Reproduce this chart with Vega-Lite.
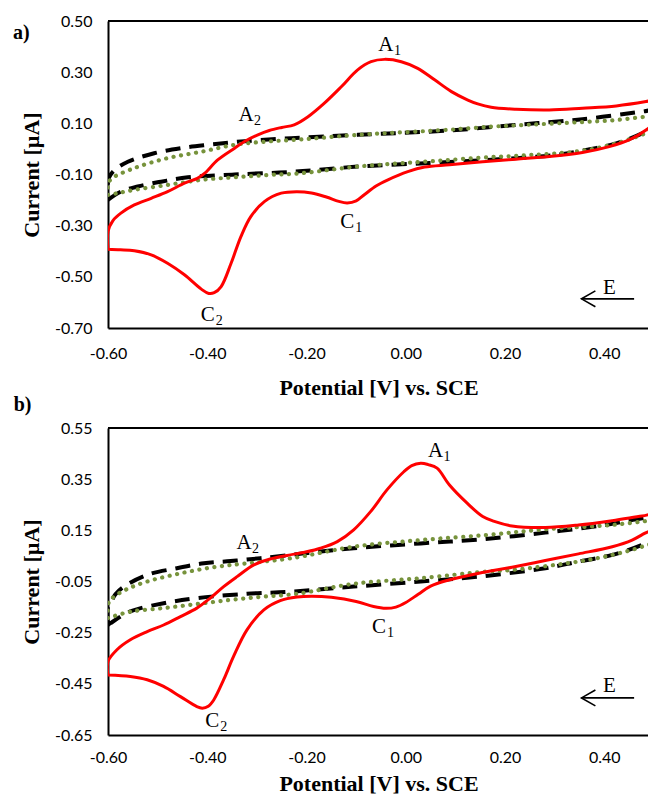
{
"$schema":"https://vega.github.io/schema/vega-lite/v6.json",
"background":"white",
"padding":{"left":12,"top":13,"right":0,"bottom":0},
"config":{
 "view":{"stroke":null},
 "concat":{"spacing":-4},
 "axis":{"grid":false,"ticks":false,"domainColor":"black","domainWidth":2,"labelFont":"Lato","labelFontSize":16,"labelColor":"black","titleFont":"Liberation Serif","titleFontSize":22,"titleFontWeight":"bold","titleColor":"black"}
},
"datasets":{
"cv":[
{"p":"a","s":"r","x":-0.6,"y":-0.392},{"p":"a","s":"r","x":-0.575,"y":-0.394},{"p":"a","s":"r","x":-0.547,"y":-0.398},{"p":"a","s":"r","x":-0.513,"y":-0.414},{"p":"a","s":"r","x":-0.48,"y":-0.447},{"p":"a","s":"r","x":-0.446,"y":-0.492},{"p":"a","s":"r","x":-0.412,"y":-0.548},{"p":"a","s":"r","x":-0.397,"y":-0.565},{"p":"a","s":"r","x":-0.386,"y":-0.562},{"p":"a","s":"r","x":-0.372,"y":-0.538},{"p":"a","s":"r","x":-0.352,"y":-0.447},{"p":"a","s":"r","x":-0.332,"y":-0.342},{"p":"a","s":"r","x":-0.312,"y":-0.264},{"p":"a","s":"r","x":-0.285,"y":-0.206},{"p":"a","s":"r","x":-0.251,"y":-0.173},{"p":"a","s":"r","x":-0.22,"y":-0.167},{"p":"a","s":"r","x":-0.19,"y":-0.172},{"p":"a","s":"r","x":-0.16,"y":-0.188},{"p":"a","s":"r","x":-0.135,"y":-0.205},{"p":"a","s":"r","x":-0.118,"y":-0.211},{"p":"a","s":"r","x":-0.1,"y":-0.203},{"p":"a","s":"r","x":-0.083,"y":-0.178},{"p":"a","s":"r","x":-0.06,"y":-0.145},{"p":"a","s":"r","x":-0.036,"y":-0.121},{"p":"a","s":"r","x":0.004,"y":-0.089},{"p":"a","s":"r","x":0.038,"y":-0.071},{"p":"a","s":"r","x":0.088,"y":-0.062},{"p":"a","s":"r","x":0.155,"y":-0.05},{"p":"a","s":"r","x":0.222,"y":-0.04},{"p":"a","s":"r","x":0.289,"y":-0.03},{"p":"a","s":"r","x":0.356,"y":-0.014},{"p":"a","s":"r","x":0.41,"y":0.009},{"p":"a","s":"r","x":0.45,"y":0.035},{"p":"a","s":"r","x":0.484,"y":0.074},{"p":"a","s":"r","x":0.51,"y":0.12},
{"p":"a","s":"r","x":0.51,"y":0.195},{"p":"a","s":"r","x":0.484,"y":0.185},{"p":"a","s":"r","x":0.424,"y":0.168},{"p":"a","s":"r","x":0.356,"y":0.159},{"p":"a","s":"r","x":0.289,"y":0.152},{"p":"a","s":"r","x":0.222,"y":0.155},{"p":"a","s":"r","x":0.172,"y":0.163},{"p":"a","s":"r","x":0.145,"y":0.176},{"p":"a","s":"r","x":0.125,"y":0.191},{"p":"a","s":"r","x":0.092,"y":0.224},{"p":"a","s":"r","x":0.058,"y":0.27},{"p":"a","s":"r","x":0.024,"y":0.315},{"p":"a","s":"r","x":-0.009,"y":0.341},{"p":"a","s":"r","x":-0.043,"y":0.35},{"p":"a","s":"r","x":-0.07,"y":0.341},{"p":"a","s":"r","x":-0.097,"y":0.309},{"p":"a","s":"r","x":-0.13,"y":0.243},{"p":"a","s":"r","x":-0.164,"y":0.179},{"p":"a","s":"r","x":-0.197,"y":0.126},{"p":"a","s":"r","x":-0.225,"y":0.094},{"p":"a","s":"r","x":-0.25,"y":0.084},{"p":"a","s":"r","x":-0.275,"y":0.072},{"p":"a","s":"r","x":-0.298,"y":0.055},{"p":"a","s":"r","x":-0.325,"y":0.029},{"p":"a","s":"r","x":-0.345,"y":0.003},{"p":"a","s":"r","x":-0.379,"y":-0.043},{"p":"a","s":"r","x":-0.405,"y":-0.095},{"p":"a","s":"r","x":-0.42,"y":-0.115},{"p":"a","s":"r","x":-0.446,"y":-0.134},{"p":"a","s":"r","x":-0.48,"y":-0.167},{"p":"a","s":"r","x":-0.513,"y":-0.193},{"p":"a","s":"r","x":-0.547,"y":-0.219},{"p":"a","s":"r","x":-0.574,"y":-0.251},{"p":"a","s":"r","x":-0.59,"y":-0.28},{"p":"a","s":"r","x":-0.6,"y":-0.323},{"p":"a","s":"r","x":-0.6,"y":-0.392},
{"p":"a","s":"k","x":-0.6,"y":-0.199},{"p":"a","s":"k","x":-0.574,"y":-0.167},{"p":"a","s":"k","x":-0.54,"y":-0.147},{"p":"a","s":"k","x":-0.493,"y":-0.128},{"p":"a","s":"k","x":-0.439,"y":-0.111},{"p":"a","s":"k","x":-0.345,"y":-0.1},{"p":"a","s":"k","x":-0.224,"y":-0.089},{"p":"a","s":"k","x":-0.097,"y":-0.069},{"p":"a","s":"k","x":0.038,"y":-0.056},{"p":"a","s":"k","x":0.15,"y":-0.045},{"p":"a","s":"k","x":0.222,"y":-0.036},{"p":"a","s":"k","x":0.3,"y":-0.024},{"p":"a","s":"k","x":0.356,"y":-0.007},{"p":"a","s":"k","x":0.424,"y":0.022},{"p":"a","s":"k","x":0.484,"y":0.068},{"p":"a","s":"k","x":0.51,"y":0.1},
{"p":"a","s":"k","x":0.51,"y":0.152},{"p":"a","s":"k","x":0.477,"y":0.146},{"p":"a","s":"k","x":0.356,"y":0.116},{"p":"a","s":"k","x":0.222,"y":0.094},{"p":"a","s":"k","x":0.088,"y":0.072},{"p":"a","s":"k","x":-0.097,"y":0.055},{"p":"a","s":"k","x":-0.231,"y":0.042},{"p":"a","s":"k","x":-0.332,"y":0.029},{"p":"a","s":"k","x":-0.399,"y":0.016},{"p":"a","s":"k","x":-0.453,"y":0.003},{"p":"a","s":"k","x":-0.507,"y":-0.017},{"p":"a","s":"k","x":-0.56,"y":-0.05},{"p":"a","s":"k","x":-0.585,"y":-0.08},{"p":"a","s":"k","x":-0.597,"y":-0.108},{"p":"a","s":"k","x":-0.6,"y":-0.13},{"p":"a","s":"k","x":-0.6,"y":-0.199},
{"p":"a","s":"g","x":-0.6,"y":-0.18},{"p":"a","s":"g","x":-0.581,"y":-0.173},{"p":"a","s":"g","x":-0.547,"y":-0.16},{"p":"a","s":"g","x":-0.48,"y":-0.141},{"p":"a","s":"g","x":-0.412,"y":-0.121},{"p":"a","s":"g","x":-0.345,"y":-0.111},{"p":"a","s":"g","x":-0.278,"y":-0.102},{"p":"a","s":"g","x":-0.211,"y":-0.095},{"p":"a","s":"g","x":-0.097,"y":-0.069},{"p":"a","s":"g","x":0.038,"y":-0.05},{"p":"a","s":"g","x":0.088,"y":-0.043},{"p":"a","s":"g","x":0.172,"y":-0.032},{"p":"a","s":"g","x":0.222,"y":-0.027},{"p":"a","s":"g","x":0.356,"y":-0.007},{"p":"a","s":"g","x":0.424,"y":0.022},{"p":"a","s":"g","x":0.484,"y":0.062},{"p":"a","s":"g","x":0.51,"y":0.09},
{"p":"a","s":"g","x":0.51,"y":0.13},{"p":"a","s":"g","x":0.484,"y":0.126},{"p":"a","s":"g","x":0.424,"y":0.113},{"p":"a","s":"g","x":0.356,"y":0.105},{"p":"a","s":"g","x":0.222,"y":0.092},{"p":"a","s":"g","x":0.172,"y":0.087},{"p":"a","s":"g","x":0.088,"y":0.075},{"p":"a","s":"g","x":-0.097,"y":0.055},{"p":"a","s":"g","x":-0.211,"y":0.037},{"p":"a","s":"g","x":-0.278,"y":0.029},{"p":"a","s":"g","x":-0.345,"y":0.016},{"p":"a","s":"g","x":-0.412,"y":-0.011},{"p":"a","s":"g","x":-0.48,"y":-0.036},{"p":"a","s":"g","x":-0.547,"y":-0.075},{"p":"a","s":"g","x":-0.594,"y":-0.118},{"p":"a","s":"g","x":-0.6,"y":-0.14},{"p":"a","s":"g","x":-0.6,"y":-0.18},
{"p":"b","s":"r","x":-0.6,"y":-0.415},{"p":"b","s":"r","x":-0.555,"y":-0.421},{"p":"b","s":"r","x":-0.521,"y":-0.434},{"p":"b","s":"r","x":-0.488,"y":-0.46},{"p":"b","s":"r","x":-0.454,"y":-0.5},{"p":"b","s":"r","x":-0.421,"y":-0.539},{"p":"b","s":"r","x":-0.41,"y":-0.545},{"p":"b","s":"r","x":-0.398,"y":-0.538},{"p":"b","s":"r","x":-0.387,"y":-0.513},{"p":"b","s":"r","x":-0.367,"y":-0.434},{"p":"b","s":"r","x":-0.347,"y":-0.343},{"p":"b","s":"r","x":-0.32,"y":-0.239},{"p":"b","s":"r","x":-0.286,"y":-0.161},{"p":"b","s":"r","x":-0.253,"y":-0.125},{"p":"b","s":"r","x":-0.219,"y":-0.111},{"p":"b","s":"r","x":-0.19,"y":-0.108},{"p":"b","s":"r","x":-0.15,"y":-0.112},{"p":"b","s":"r","x":-0.1,"y":-0.128},{"p":"b","s":"r","x":-0.065,"y":-0.148},{"p":"b","s":"r","x":-0.04,"y":-0.155},{"p":"b","s":"r","x":-0.02,"y":-0.15},{"p":"b","s":"r","x":0.0,"y":-0.132},{"p":"b","s":"r","x":0.025,"y":-0.1},{"p":"b","s":"r","x":0.05,"y":-0.068},{"p":"b","s":"r","x":0.085,"y":-0.045},{"p":"b","s":"r","x":0.147,"y":-0.018},{"p":"b","s":"r","x":0.214,"y":0.006},{"p":"b","s":"r","x":0.281,"y":0.032},{"p":"b","s":"r","x":0.348,"y":0.058},{"p":"b","s":"r","x":0.416,"y":0.086},{"p":"b","s":"r","x":0.456,"y":0.112},{"p":"b","s":"r","x":0.481,"y":0.138},{"p":"b","s":"r","x":0.51,"y":0.17},
{"p":"b","s":"r","x":0.51,"y":0.215},{"p":"b","s":"r","x":0.476,"y":0.206},{"p":"b","s":"r","x":0.416,"y":0.188},{"p":"b","s":"r","x":0.348,"y":0.171},{"p":"b","s":"r","x":0.281,"y":0.161},{"p":"b","s":"r","x":0.214,"y":0.167},{"p":"b","s":"r","x":0.18,"y":0.184},{"p":"b","s":"r","x":0.155,"y":0.204},{"p":"b","s":"r","x":0.122,"y":0.259},{"p":"b","s":"r","x":0.088,"y":0.327},{"p":"b","s":"r","x":0.063,"y":0.393},{"p":"b","s":"r","x":0.045,"y":0.407},{"p":"b","s":"r","x":0.03,"y":0.412},{"p":"b","s":"r","x":0.012,"y":0.403},{"p":"b","s":"r","x":-0.004,"y":0.379},{"p":"b","s":"r","x":-0.038,"y":0.308},{"p":"b","s":"r","x":-0.071,"y":0.223},{"p":"b","s":"r","x":-0.105,"y":0.152},{"p":"b","s":"r","x":-0.138,"y":0.106},{"p":"b","s":"r","x":-0.172,"y":0.08},{"p":"b","s":"r","x":-0.2,"y":0.066},{"p":"b","s":"r","x":-0.239,"y":0.052},{"p":"b","s":"r","x":-0.273,"y":0.038},{"p":"b","s":"r","x":-0.306,"y":0.015},{"p":"b","s":"r","x":-0.34,"y":-0.031},{"p":"b","s":"r","x":-0.367,"y":-0.07},{"p":"b","s":"r","x":-0.394,"y":-0.115},{"p":"b","s":"r","x":-0.421,"y":-0.154},{"p":"b","s":"r","x":-0.454,"y":-0.187},{"p":"b","s":"r","x":-0.488,"y":-0.22},{"p":"b","s":"r","x":-0.521,"y":-0.246},{"p":"b","s":"r","x":-0.555,"y":-0.278},{"p":"b","s":"r","x":-0.582,"y":-0.317},{"p":"b","s":"r","x":-0.6,"y":-0.363},{"p":"b","s":"r","x":-0.6,"y":-0.415},
{"p":"b","s":"k","x":-0.6,"y":-0.22},{"p":"b","s":"k","x":-0.595,"y":-0.213},{"p":"b","s":"k","x":-0.555,"y":-0.167},{"p":"b","s":"k","x":-0.488,"y":-0.135},{"p":"b","s":"k","x":-0.421,"y":-0.115},{"p":"b","s":"k","x":-0.32,"y":-0.098},{"p":"b","s":"k","x":-0.232,"y":-0.09},{"p":"b","s":"k","x":-0.105,"y":-0.07},{"p":"b","s":"k","x":0.03,"y":-0.05},{"p":"b","s":"k","x":0.147,"y":-0.031},{"p":"b","s":"k","x":0.281,"y":0.002},{"p":"b","s":"k","x":0.348,"y":0.028},{"p":"b","s":"k","x":0.416,"y":0.054},{"p":"b","s":"k","x":0.476,"y":0.093},{"p":"b","s":"k","x":0.51,"y":0.125},
{"p":"b","s":"k","x":0.51,"y":0.205},{"p":"b","s":"k","x":0.476,"y":0.197},{"p":"b","s":"k","x":0.402,"y":0.171},{"p":"b","s":"k","x":0.281,"y":0.141},{"p":"b","s":"k","x":0.147,"y":0.114},{"p":"b","s":"k","x":0.03,"y":0.099},{"p":"b","s":"k","x":-0.105,"y":0.08},{"p":"b","s":"k","x":-0.205,"y":0.06},{"p":"b","s":"k","x":-0.293,"y":0.041},{"p":"b","s":"k","x":-0.353,"y":0.03},{"p":"b","s":"k","x":-0.407,"y":0.021},{"p":"b","s":"k","x":-0.461,"y":0.002},{"p":"b","s":"k","x":-0.521,"y":-0.024},{"p":"b","s":"k","x":-0.568,"y":-0.07},{"p":"b","s":"k","x":-0.585,"y":-0.1},{"p":"b","s":"k","x":-0.595,"y":-0.135},{"p":"b","s":"k","x":-0.6,"y":-0.15},{"p":"b","s":"k","x":-0.6,"y":-0.22},
{"p":"b","s":"g","x":-0.6,"y":-0.193},{"p":"b","s":"g","x":-0.555,"y":-0.168},{"p":"b","s":"g","x":-0.488,"y":-0.154},{"p":"b","s":"g","x":-0.421,"y":-0.138},{"p":"b","s":"g","x":-0.353,"y":-0.122},{"p":"b","s":"g","x":-0.286,"y":-0.109},{"p":"b","s":"g","x":-0.219,"y":-0.098},{"p":"b","s":"g","x":-0.105,"y":-0.059},{"p":"b","s":"g","x":0.03,"y":-0.037},{"p":"b","s":"g","x":0.164,"y":-0.011},{"p":"b","s":"g","x":0.214,"y":-0.005},{"p":"b","s":"g","x":0.348,"y":0.028},{"p":"b","s":"g","x":0.416,"y":0.054},{"p":"b","s":"g","x":0.476,"y":0.086},{"p":"b","s":"g","x":0.51,"y":0.115},
{"p":"b","s":"g","x":0.51,"y":0.19},{"p":"b","s":"g","x":0.476,"y":0.184},{"p":"b","s":"g","x":0.416,"y":0.171},{"p":"b","s":"g","x":0.281,"y":0.154},{"p":"b","s":"g","x":0.164,"y":0.132},{"p":"b","s":"g","x":0.03,"y":0.112},{"p":"b","s":"g","x":-0.105,"y":0.086},{"p":"b","s":"g","x":-0.23,"y":0.041},{"p":"b","s":"g","x":-0.32,"y":0.021},{"p":"b","s":"g","x":-0.387,"y":0.006},{"p":"b","s":"g","x":-0.454,"y":-0.018},{"p":"b","s":"g","x":-0.521,"y":-0.05},{"p":"b","s":"g","x":-0.562,"y":-0.08},{"p":"b","s":"g","x":-0.585,"y":-0.105},{"p":"b","s":"g","x":-0.595,"y":-0.122},{"p":"b","s":"g","x":-0.6,"y":-0.14},{"p":"b","s":"g","x":-0.6,"y":-0.193}
],
"lab":[
{"p":"a","x":-0.04,"y":0.406,"letter":"A","sub":"1"},{"p":"a","x":-0.322,"y":0.133,"letter":"A","sub":"2"},{"p":"a","x":-0.118,"y":-0.285,"letter":"C","sub":"1"},{"p":"a","x":-0.399,"y":-0.648,"letter":"C","sub":"2"},{"p":"a","x":0.41,"y":-0.543,"letter":"E","sub":""},
{"p":"b","x":0.06,"y":0.461,"letter":"A","sub":"1"},{"p":"b","x":-0.326,"y":0.1,"letter":"A","sub":"2"},{"p":"b","x":-0.054,"y":-0.227,"letter":"C","sub":"1"},{"p":"b","x":-0.39,"y":-0.597,"letter":"C","sub":"2"},{"p":"b","x":0.41,"y":-0.458,"letter":"E","sub":""}
],
"arrow":[
{"p":"a","g":"s","x":0.354,"y":-0.586},{"p":"a","g":"s","x":0.46,"y":-0.586},{"p":"a","g":"h","x":0.382,"y":-0.555},{"p":"a","g":"h","x":0.354,"y":-0.586},{"p":"a","g":"h","x":0.382,"y":-0.617},
{"p":"b","g":"s","x":0.354,"y":-0.505},{"p":"b","g":"s","x":0.46,"y":-0.505},{"p":"b","g":"h","x":0.382,"y":-0.474},{"p":"b","g":"h","x":0.354,"y":-0.505},{"p":"b","g":"h","x":0.382,"y":-0.536}
],
"tag":[{"p":"a","x":-0.7915,"y":0.453,"t":"a)"},{"p":"b","x":-0.79,"y":0.64,"t":"b)"}]
},
"vconcat":[
{"width":541,"height":307,
 "layer":[
  {"data":{"name":"cv"},"transform":[{"filter":"datum.p==='a' && datum.s==='k'"}],
   "mark":{"type":"line","clip":true,"interpolate":"catmull-rom","color":"black","strokeWidth":4,"strokeDash":[15,9]},
   "encoding":{
    "x":{"field":"x","type":"quantitative","title":"Potential [V] vs. SCE","scale":{"domain":[-0.6,0.49],"nice":false,"zero":false},
         "axis":{"values":[-0.6,-0.4,-0.2,0,0.2,0.4],"labelExpr":"replace(format(datum.value,'.2f'),'\u2212','-')","labelFlush":false,"labelOverlap":false,"labelPadding":17,"titlePadding":16}},
    "y":{"field":"y","type":"quantitative","title":"Current [µA]","scale":{"domain":[-0.7,0.5],"nice":false,"zero":false},
         "axis":{"values":[-0.7,-0.5,-0.3,-0.1,0.1,0.3,0.5],"labelExpr":"replace(format(datum.value,'.2f'),'\u2212','-')","labelOverlap":false,"labelPadding":16,"titlePadding":11}},
    "order":{"value":null}}},
  {"data":{"name":"cv"},"transform":[{"filter":"datum.p==='a' && datum.s==='g'"}],
   "mark":{"type":"line","clip":true,"interpolate":"catmull-rom","color":"#77933C","strokeWidth":4.2,"strokeDash":[0.1,7.5],"strokeCap":"round"},
   "encoding":{"x":{"field":"x","type":"quantitative","title":"Potential [V] vs. SCE"},"y":{"field":"y","type":"quantitative","title":"Current [µA]"},"order":{"value":null}}},
  {"data":{"name":"cv"},"transform":[{"filter":"datum.p==='a' && datum.s==='r'"}],
   "mark":{"type":"line","clip":true,"interpolate":"catmull-rom","color":"#FF0000","strokeWidth":3},
   "encoding":{"x":{"field":"x","type":"quantitative","title":"Potential [V] vs. SCE"},"y":{"field":"y","type":"quantitative","title":"Current [µA]"},"order":{"value":null}}},
  {"data":{"values":[{}]},"mark":{"type":"rule","color":"black","strokeWidth":2},
   "encoding":{"y":{"datum":0.5,"type":"quantitative"}}},
  {"data":{"name":"arrow"},"transform":[{"filter":"datum.p==='a'"}],
   "mark":{"type":"line","color":"black","strokeWidth":1.6},
   "encoding":{"x":{"field":"x","type":"quantitative","title":"Potential [V] vs. SCE"},"y":{"field":"y","type":"quantitative","title":"Current [µA]"},"detail":{"field":"g"},"order":{"value":null}}},
  {"data":{"name":"lab"},"transform":[{"filter":"datum.p==='a'"}],
   "mark":{"type":"text","font":"Liberation Serif","fontSize":21,"align":"center","baseline":"middle","color":"black"},
   "encoding":{"x":{"field":"x","type":"quantitative","title":"Potential [V] vs. SCE"},"y":{"field":"y","type":"quantitative","title":"Current [µA]"},"text":{"field":"letter"}}},
  {"data":{"name":"lab"},"transform":[{"filter":"datum.p==='a'"}],
   "mark":{"type":"text","font":"Liberation Serif","fontSize":14,"align":"left","baseline":"middle","dx":8,"dy":6,"color":"black"},
   "encoding":{"x":{"field":"x","type":"quantitative","title":"Potential [V] vs. SCE"},"y":{"field":"y","type":"quantitative","title":"Current [µA]"},"text":{"field":"sub"}}},
  {"data":{"name":"tag"},"transform":[{"filter":"datum.p==='a'"}],
   "mark":{"type":"text","font":"Liberation Serif","fontSize":20,"fontWeight":"bold","align":"left","baseline":"middle","color":"black"},
   "encoding":{"x":{"field":"x","type":"quantitative","title":"Potential [V] vs. SCE"},"y":{"field":"y","type":"quantitative","title":"Current [µA]"},"text":{"field":"t"}}}
 ]},
{"width":541,"height":307,
 "layer":[
  {"data":{"name":"cv"},"transform":[{"filter":"datum.p==='b' && datum.s==='k'"}],
   "mark":{"type":"line","clip":true,"interpolate":"catmull-rom","color":"black","strokeWidth":4,"strokeDash":[15,9]},
   "encoding":{
    "x":{"field":"x","type":"quantitative","title":"Potential [V] vs. SCE","scale":{"domain":[-0.6,0.49],"nice":false,"zero":false},
         "axis":{"values":[-0.6,-0.4,-0.2,0,0.2,0.4],"labelExpr":"replace(format(datum.value,'.2f'),'\u2212','-')","labelFlush":false,"labelOverlap":false,"labelPadding":14,"titlePadding":8}},
    "y":{"field":"y","type":"quantitative","title":"Current [µA]","scale":{"domain":[-0.65,0.55],"nice":false,"zero":false},
         "axis":{"values":[-0.65,-0.45,-0.25,-0.05,0.15,0.35,0.55],"labelExpr":"replace(format(datum.value,'.2f'),'\u2212','-')","labelOverlap":false,"labelPadding":16,"titlePadding":11}},
    "order":{"value":null}}},
  {"data":{"name":"cv"},"transform":[{"filter":"datum.p==='b' && datum.s==='g'"}],
   "mark":{"type":"line","clip":true,"interpolate":"catmull-rom","color":"#77933C","strokeWidth":4.2,"strokeDash":[0.1,7.5],"strokeCap":"round"},
   "encoding":{"x":{"field":"x","type":"quantitative","title":"Potential [V] vs. SCE"},"y":{"field":"y","type":"quantitative","title":"Current [µA]"},"order":{"value":null}}},
  {"data":{"name":"cv"},"transform":[{"filter":"datum.p==='b' && datum.s==='r'"}],
   "mark":{"type":"line","clip":true,"interpolate":"catmull-rom","color":"#FF0000","strokeWidth":3},
   "encoding":{"x":{"field":"x","type":"quantitative","title":"Potential [V] vs. SCE"},"y":{"field":"y","type":"quantitative","title":"Current [µA]"},"order":{"value":null}}},
  {"data":{"values":[{}]},"mark":{"type":"rule","color":"black","strokeWidth":2},
   "encoding":{"y":{"datum":0.55,"type":"quantitative"}}},
  {"data":{"name":"arrow"},"transform":[{"filter":"datum.p==='b'"}],
   "mark":{"type":"line","color":"black","strokeWidth":1.6},
   "encoding":{"x":{"field":"x","type":"quantitative","title":"Potential [V] vs. SCE"},"y":{"field":"y","type":"quantitative","title":"Current [µA]"},"detail":{"field":"g"},"order":{"value":null}}},
  {"data":{"name":"lab"},"transform":[{"filter":"datum.p==='b'"}],
   "mark":{"type":"text","font":"Liberation Serif","fontSize":21,"align":"center","baseline":"middle","color":"black"},
   "encoding":{"x":{"field":"x","type":"quantitative","title":"Potential [V] vs. SCE"},"y":{"field":"y","type":"quantitative","title":"Current [µA]"},"text":{"field":"letter"}}},
  {"data":{"name":"lab"},"transform":[{"filter":"datum.p==='b'"}],
   "mark":{"type":"text","font":"Liberation Serif","fontSize":14,"align":"left","baseline":"middle","dx":8,"dy":6,"color":"black"},
   "encoding":{"x":{"field":"x","type":"quantitative","title":"Potential [V] vs. SCE"},"y":{"field":"y","type":"quantitative","title":"Current [µA]"},"text":{"field":"sub"}}},
  {"data":{"name":"tag"},"transform":[{"filter":"datum.p==='b'"}],
   "mark":{"type":"text","font":"Liberation Serif","fontSize":20,"fontWeight":"bold","align":"left","baseline":"middle","color":"black"},
   "encoding":{"x":{"field":"x","type":"quantitative","title":"Potential [V] vs. SCE"},"y":{"field":"y","type":"quantitative","title":"Current [µA]"},"text":{"field":"t"}}}
 ]}
]
}
